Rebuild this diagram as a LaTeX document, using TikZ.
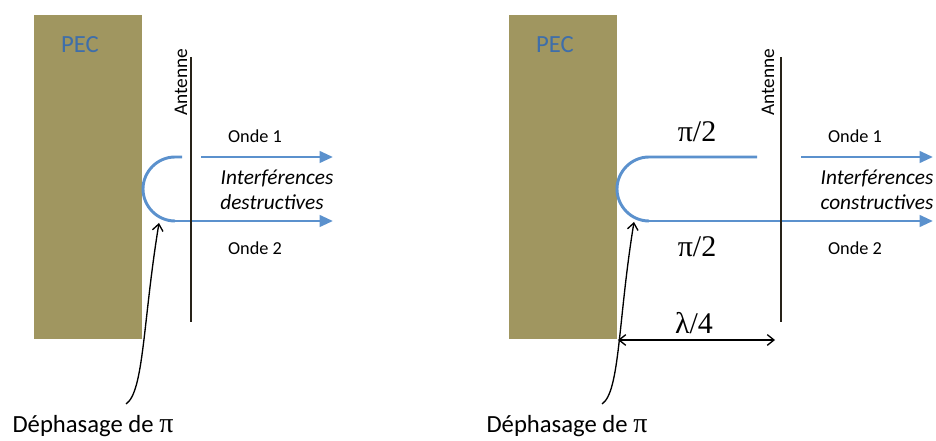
\documentclass[tikz,border=0pt]{standalone}
\usepackage{fontspec}
\setmainfont{Carlito}
\newfontfamily\serifpi{Liberation Serif}
\usetikzlibrary{arrows.meta}
\definecolor{pecfill}{RGB}{160,150,96}
\definecolor{pectext}{RGB}{62,110,170}
\definecolor{wave}{RGB}{91,145,205}
\definecolor{antcol}{RGB}{40,35,25}
\tikzset{
  pec/.style={fill=pecfill,draw=none},
  peclabel/.style={text=pectext,font=\fontsize{18.5}{20}\selectfont,anchor=base,inner sep=0pt},
  antline/.style={draw=antcol,line width=2.1pt},
  antlabel/.style={font=\fontsize{14.5}{16}\selectfont,rotate=90,inner sep=0pt},
  waveline/.style={draw=wave,line width=2.2pt},
  wavearrow/.style={waveline,-{Triangle[length=10pt,width=8.5pt]}},
  ondelabel/.style={font=\fontsize{13.7}{15}\selectfont,anchor=base,inner sep=0pt},
  interlabel/.style={font=\fontsize{16}{18}\selectfont\itshape,anchor=base,inner sep=0pt},
  philabel/.style={font=\fontsize{18.5}{20}\selectfont,anchor=base,inner sep=0pt},
  mathlabel/.style={font=\serifpi\fontsize{22.5}{24}\selectfont,anchor=base,inner sep=0pt},
  pointer/.style={draw=black,line width=1pt,-{Straight Barb[length=5pt,width=8pt]}},
  dimarrow/.style={draw=black,line width=1pt,{Straight Barb[length=5pt,width=8pt]}-{Straight Barb[length=5pt,width=8pt]}}
}
\begin{document}
\begin{tikzpicture}[x=0.75pt,y=-0.75pt]
\useasboundingbox (0,0) rectangle (936,441);
% ===== Left panel =====
\fill[pec] (34,15) rectangle (142,339);
\node[peclabel] (pecL) at (80,53) {PEC};
% wave U
\draw[waveline] (182,157) coordinate (uLtop) -- (175,157) .. controls (157,157) and (143,172) .. (143,189) .. controls (143,206) and (157,221) .. (175,221) coordinate (uLbot);
\coordinate (aL2s) at (175,221);
\coordinate (aL2e) at (333,221);
\draw[wavearrow] (aL2s) -- (aL2e);
\coordinate (aL1s) at (201,157);
\coordinate (aL1e) at (333,157);
\draw[wavearrow] (aL1s) -- (aL1e);
% antenna
\coordinate (antLt) at (191,57);
\coordinate (antLb) at (191,322);
\draw[antline] (antLt) -- (antLb);
\node[antlabel] (antLlab) at (181,82.5) {Antenne};
\node[ondelabel] (o1L) at (255,143) {Onde 1};
\node[ondelabel] (o2L) at (255,255) {Onde 2};
\node[interlabel] (i1L) at (277,185) {Interférences};
\node[interlabel] (i2L) at (272,210) {destructives};
\node[philabel] (phL) at (93,433) {Déphasage de {\serifpi\fontsize{21}{22}\selectfont π}};
\coordinate (pLs) at (126,404);
\coordinate (pLe) at (159,223);
\draw[pointer] (pLs) .. controls (144,392) and (143,320) .. (pLe);
% ===== Right panel =====
\fill[pec] (509,15) rectangle (617,339);
\node[peclabel] (pecR) at (555,53) {PEC};
\draw[waveline] (757,157) coordinate (uRtop) -- (649,157) .. controls (631,157) and (617,172) .. (617,189) .. controls (617,206) and (631,221) .. (649,221) coordinate (uRbot);
\coordinate (aR2s) at (649,221);
\coordinate (aR2e) at (933,221);
\draw[wavearrow] (aR2s) -- (aR2e);
\coordinate (aR1s) at (801,157);
\coordinate (aR1e) at (933,157);
\draw[wavearrow] (aR1s) -- (aR1e);
\coordinate (antRt) at (781,57);
\coordinate (antRb) at (781,322);
\draw[antline] (antRt) -- (antRb);
\node[antlabel] (antRlab) at (768,82.5) {Antenne};
\node[mathlabel] (pi1) at (697,142) {π/2};
\node[mathlabel] (pi2) at (697,257) {π/2};
\node[mathlabel] (lam) at (694,334) {λ/4};
\node[ondelabel] (o1R) at (855,143) {Onde 1};
\node[ondelabel] (o2R) at (855,255) {Onde 2};
\node[interlabel] (i1R) at (877,185) {Interférences};
\node[interlabel] (i2R) at (877,210) {constructives};
\coordinate (dimL) at (618,340);
\coordinate (dimR) at (775,340);
\draw[dimarrow] (dimL) -- (dimR);
\node[philabel] (phR) at (567,433) {Déphasage de {\serifpi\fontsize{21}{22}\selectfont π}};
\coordinate (pRs) at (602,404);
\coordinate (pRe) at (634,222);
\draw[pointer] (pRs) .. controls (620,392) and (618,320) .. (pRe);
\end{tikzpicture}
\end{document}
